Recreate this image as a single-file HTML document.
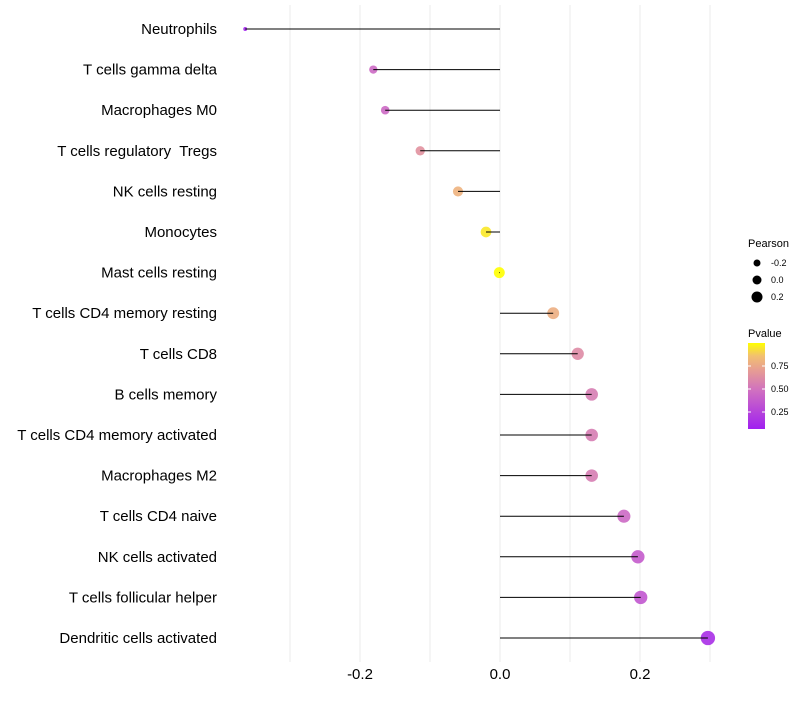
<!DOCTYPE html>
<html><head><meta charset="utf-8"><style>
body{margin:0;background:#fff;font-family:"Liberation Sans",sans-serif}
</style></head><body>
<svg id="chart" width="800" height="700" xmlns="http://www.w3.org/2000/svg" font-family="Liberation Sans, sans-serif">
<g id="grid"></g>
<g id="ylab"></g>
<g id="xlab"></g>
<g id="marks"></g>
<g font-size="10">
<text x="748" y="247" font-size="11">Pearson</text>
<circle cx="757" cy="263" r="3.5" fill="#000"/><text x="771" y="266" font-size="9">-0.2</text>
<circle cx="757" cy="280" r="4.5" fill="#000"/><text x="771" y="283" font-size="9">0.0</text>
<circle cx="757" cy="297" r="5.5" fill="#000"/><text x="771" y="300" font-size="9">0.2</text>
</g>
<g>
<defs><linearGradient id="pg" x1="0" y1="1" x2="0" y2="0">
<stop offset="0" stop-color="#A020F0"/><stop offset="0.45" stop-color="#D070C0"/><stop offset="0.7" stop-color="#E8A090"/><stop offset="0.85" stop-color="#F2C070"/><stop offset="1" stop-color="#FFFF00"/></linearGradient></defs>
<text x="748" y="337" font-size="11">Pvalue</text>
<rect x="748" y="343" width="17" height="86" fill="url(#pg)"/>
<g stroke="#fff" stroke-width="1"><line x1="748" y1="366" x2="751" y2="366"/><line x1="762" y1="366" x2="765" y2="366"/><line x1="748" y1="389" x2="751" y2="389"/><line x1="762" y1="389" x2="765" y2="389"/><line x1="748" y1="412" x2="751" y2="412"/><line x1="762" y1="412" x2="765" y2="412"/></g>
<text x="771" y="369" font-size="9">0.75</text><text x="771" y="392" font-size="9">0.50</text><text x="771" y="415" font-size="9">0.25</text>
</g>
</svg>
<script>
const categories=["Neutrophils","T cells gamma delta","Macrophages M0","T cells regulatory  Tregs","NK cells resting","Monocytes","Mast cells resting","T cells CD4 memory resting","T cells CD8","B cells memory","T cells CD4 memory activated","Macrophages M2","T cells CD4 naive","NK cells activated","T cells follicular helper","Dendritic cells activated"];
const pearson=[-0.364,-0.181,-0.164,-0.114,-0.06,-0.02,-0.001,0.076,0.111,0.131,0.131,0.131,0.177,0.197,0.201,0.297];
const pvalue=[0.1,0.45,0.45,0.65,0.8,0.95,1.0,0.78,0.62,0.55,0.55,0.55,0.45,0.38,0.36,0.15];
const xTicks=[-0.2,0.0,0.2];
const xTickLabels=["-0.2","0.0","0.2"];
const gridVals=[-0.3,-0.2,-0.1,0,0.1,0.2,0.3];
const NS="http://www.w3.org/2000/svg";
const x=v=>500+v*700;
const y=i=>29+i*40.6;
const rad=v=>Math.sqrt(Math.max(1.5,30+72*v));
const stops=[[0,[160,32,240]],[0.45,[208,112,192]],[0.7,[232,160,144]],[0.85,[242,192,112]],[1,[255,255,0]]];
function col(p){p=Math.max(0,Math.min(1,(p-0.07)/0.93));for(let k=1;k<stops.length;k++){if(p<=stops[k][0]){const a=stops[k-1],b=stops[k],t=(p-a[0])/(b[0]-a[0]);return "rgb("+a[1].map((c,j)=>Math.round(c+(b[1][j]-c)*t)).join(",")+")";}}return "rgb(255,255,0)";}
function mk(t,at,par){const e=document.createElementNS(NS,t);for(const k in at)e.setAttribute(k,at[k]);par.appendChild(e);return e;}
const g=document.getElementById('grid'),yl=document.getElementById('ylab'),xl=document.getElementById('xlab'),m=document.getElementById('marks');
gridVals.forEach(v=>{const l=mk('line',{x1:x(v),x2:x(v),y1:5,y2:662,stroke:'#ebebeb','stroke-width':1},g);

});
xTicks.forEach((v,i)=>{const t=mk('text',{x:x(v),y:679,'text-anchor':'middle','font-size':15,fill:'#000'},xl);t.textContent=xTickLabels[i];

});
categories.forEach((c,i)=>{const t=mk('text',{x:217,y:y(i)+5,'text-anchor':'end','font-size':15,fill:'#000','xml:space':'preserve',style:'white-space:pre'},yl);t.textContent=c;


const pt=mk('circle',{cx:x(pearson[i]),cy:y(i),r:rad(pearson[i]),fill:col(pvalue[i]),'fill-opacity':0.9},m);


const ln=mk('line',{x1:x(0),x2:x(pearson[i]),y1:y(i),y2:y(i),stroke:'#000','stroke-width':1},m);

});
</script>
</body></html>
